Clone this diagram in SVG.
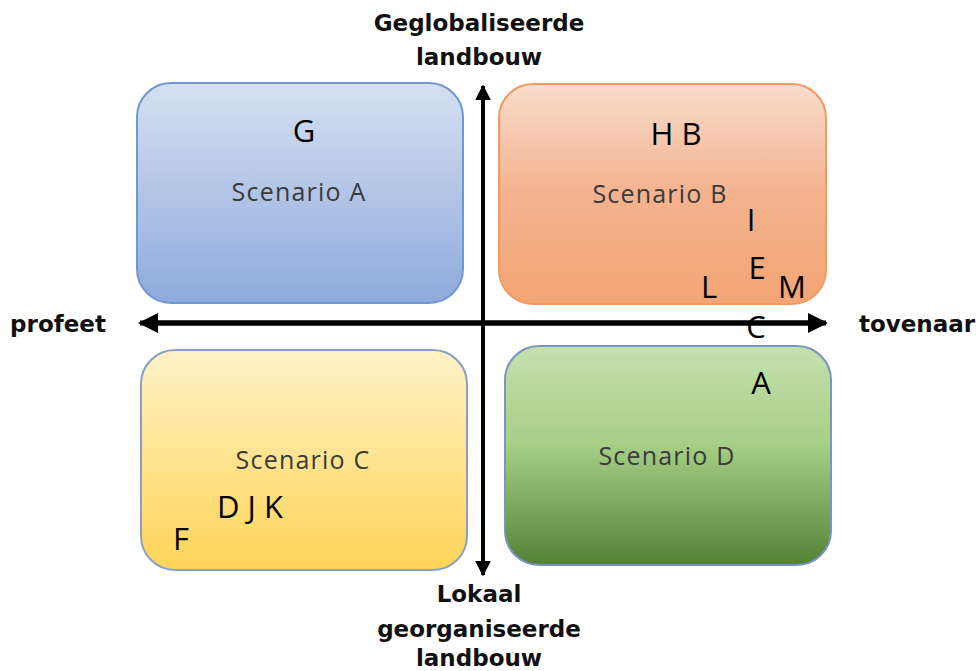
<svg xmlns="http://www.w3.org/2000/svg" width="976" height="671" viewBox="0 0 976 671">
  <defs>
    <linearGradient id="gA" x1="0" y1="0" x2="0" y2="1">
      <stop offset="0" stop-color="#d5e0f1"/>
      <stop offset="1" stop-color="#8eaadc"/>
    </linearGradient>
    <linearGradient id="gB" x1="0" y1="0" x2="0" y2="1">
      <stop offset="0" stop-color="#f9dccb"/>
      <stop offset="0.5" stop-color="#f4b28e"/>
      <stop offset="1" stop-color="#f3a574"/>
    </linearGradient>
    <linearGradient id="gC" x1="0" y1="0" x2="0" y2="1">
      <stop offset="0" stop-color="#fff2c8"/>
      <stop offset="1" stop-color="#ffd457"/>
    </linearGradient>
    <linearGradient id="gD" x1="0" y1="0" x2="0" y2="1">
      <stop offset="0" stop-color="#c5e0ae"/>
      <stop offset="0.45" stop-color="#a6cf86"/>
      <stop offset="1" stop-color="#548235"/>
    </linearGradient>
    <marker id="head" viewBox="0 0 10 10" refX="9" refY="5" markerWidth="4" markerHeight="4" orient="auto" markerUnits="strokeWidth">
      <path d="M0,0 L10,5 L0,10 z" fill="#000"/>
    </marker>
    <style>
      .box { stroke-width: 2; }
      .scen { font-family: "Open Sans", "Liberation Sans", sans-serif; font-size: 25px; letter-spacing: 1.2px; fill: #3a3a3a; text-anchor: middle; }
      .code { font-family: "Open Sans", "Liberation Sans", sans-serif; font-size: 31px; fill: #000; text-anchor: middle; }
      .axis-label { font-family: "DejaVu Sans", "Liberation Sans", sans-serif; font-weight: bold; font-size: 23px; fill: #111; text-anchor: middle; }
      .axis { stroke: #000; fill: none; }
    </style>
  </defs>

  <g id="scenario-a">
    <rect class="box" x="137" y="83" width="326" height="220" rx="34" fill="url(#gA)" stroke="#7197d2"/>
    <text class="code" x="304" y="142">G</text>
    <text class="scen" x="299" y="201">Scenario A</text>
  </g>

  <g id="scenario-b">
    <rect class="box" x="499" y="84" width="327" height="220" rx="34" fill="url(#gB)" stroke="#ef9b62"/>
    <text class="code" x="676" y="145">H B</text>
    <text class="scen" x="660" y="203">Scenario B</text>
    <text class="code" x="751" y="231">I</text>
    <text class="code" x="757" y="279">E</text>
    <text class="code" x="709" y="298">L</text>
    <text class="code" x="792" y="298">M</text>
  </g>

  <g id="scenario-c">
    <rect class="box" x="141" y="350" width="326" height="220" rx="34" fill="url(#gC)" stroke="#8b9fc6"/>
    <text class="scen" x="303" y="469">Scenario C</text>
    <text class="code" x="250" y="518">D J K</text>
    <text class="code" x="181" y="550">F</text>
  </g>

  <g id="scenario-d">
    <rect class="box" x="505" y="346" width="326" height="219" rx="34" fill="url(#gD)" stroke="#7a95c0"/>
    <text class="code" x="761" y="394">A</text>
    <text class="scen" x="667" y="465">Scenario D</text>
  </g>

  <g id="connectors">
    <line class="axis" x1="483" y1="575" x2="483" y2="86" stroke-width="4" marker-end="url(#head)"/>
    <line class="axis" x1="483" y1="96" x2="483" y2="575" stroke-width="4" marker-end="url(#head)"/>
    <line class="axis" x1="150" y1="323" x2="826" y2="323" stroke-width="5" marker-end="url(#head)"/>
    <line class="axis" x1="816" y1="323" x2="140" y2="323" stroke-width="5" marker-end="url(#head)"/>
  </g>

  <text class="code" x="756" y="338">C</text>

  <g id="labels">
    <text class="axis-label" x="58" y="332">profeet</text>
    <text class="axis-label" x="917" y="332">tovenaar</text>
    <text class="axis-label" x="479" y="31">Geglobaliseerde</text>
    <text class="axis-label" x="479" y="65">landbouw</text>
    <text class="axis-label" x="479" y="602">Lokaal</text>
    <text class="axis-label" x="479" y="637">georganiseerde</text>
    <text class="axis-label" x="479" y="666">landbouw</text>
  </g>
</svg>
